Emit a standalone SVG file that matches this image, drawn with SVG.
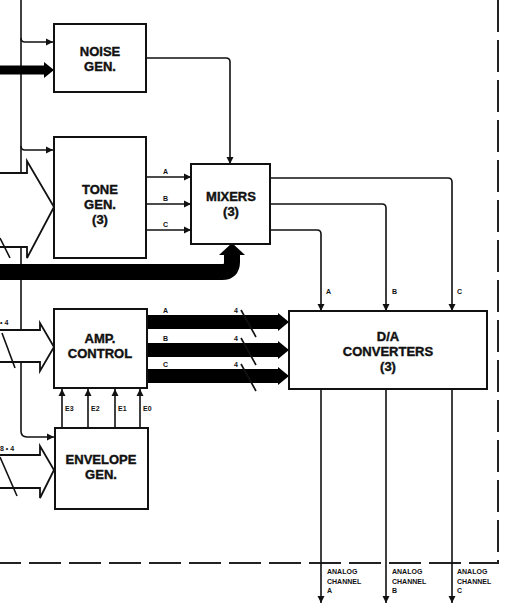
<svg xmlns="http://www.w3.org/2000/svg" width="506" height="608" viewBox="0 0 506 608">
<style>
.box{fill:#fff;stroke:#111;stroke-width:2}
.ln{fill:none;stroke:#111;stroke-width:1.6}
.thick{fill:none;stroke:#000}
.hollow{fill:#fff;stroke:#111;stroke-width:1.8;stroke-linejoin:miter}
.t{font-family:"Liberation Sans",Arial,sans-serif;font-weight:bold;font-size:13px;text-anchor:middle;fill:#111;stroke:#111;stroke-width:0.4}
.s{font-family:"Liberation Sans",Arial,sans-serif;font-weight:bold;font-size:7px;fill:#111}
.dash{fill:none;stroke:#222;stroke-width:2;stroke-dasharray:32 8}
</style>
<defs>
<marker id="ah" markerUnits="userSpaceOnUse" markerWidth="8" markerHeight="8" refX="7" refY="4" orient="auto">
<path d="M0,0.5 L7,4 L0,7.5 z" fill="#111"/>
</marker>
</defs>

<path class="dash" d="M498,0 V563 H0"/>

<g id="inputs">
<polygon class="hollow" points="-2,173 27,173 27,161 54,207 27,258 27,247 -2,247"/>
<line class="ln" x1="0" y1="238" x2="10" y2="258"/>
<polygon class="hollow" points="-2,330 40,330 40,323 54,347 40,371 40,362 -2,362"/>
<line class="ln" x1="2" y1="333" x2="15" y2="368"/>
<text class="s" x="0" y="325">• 4</text>
<polygon class="hollow" points="-2,455 40,455 40,446 54,470 40,498 40,488 -2,488"/>
<line class="ln" x1="0" y1="457" x2="17" y2="496"/>
<text class="s" x="0" y="451">8 • 4</text>
</g>

<g id="connectors">
<path class="ln" d="M21,0 V173"/>
<path class="ln" d="M21,38 Q21,42 25,42 H53" marker-end="url(#ah)"/>
<path class="ln" d="M21,146 Q21,150 25,150 H53" marker-end="url(#ah)"/>
<path class="ln" d="M21,247 V330"/>
<path class="ln" d="M21,362 V431 Q21,437 27,437 H54" marker-end="url(#ah)"/>
<path class="thick" stroke-width="9" d="M0,70 H46"/>
<polygon points="44,62 54,70 44,78" fill="#000"/>
<path class="thick" stroke-width="16" d="M0,272 H222 Q232,272 232,262 V253"/>
<polygon points="219,255 232,243 245,255" fill="#000"/>
<path class="ln" d="M146,58 H226 Q230,58 230,62 V164" marker-end="url(#ah)"/>
<path class="ln" d="M146,177 H191" marker-end="url(#ah)"/>
<path class="ln" d="M146,204 H191" marker-end="url(#ah)"/>
<path class="ln" d="M146,230 H191" marker-end="url(#ah)"/>
<text class="s" x="163" y="174">A</text>
<text class="s" x="163" y="201">B</text>
<text class="s" x="163" y="227">C</text>
<path class="ln" d="M270,178 H448 Q452,178 452,182 V311" marker-end="url(#ah)"/>
<path class="ln" d="M270,204 H382 Q386,204 386,208 V311" marker-end="url(#ah)"/>
<path class="ln" d="M270,230 H317 Q321,230 321,234 V311" marker-end="url(#ah)"/>
<text class="s" x="326" y="294">A</text>
<text class="s" x="392" y="294">B</text>
<text class="s" x="457" y="294">C</text>
<path class="thick" stroke-width="14" d="M147,322 H280"/>
<polygon points="278,313 289,322 278,331" fill="#000"/>
<path class="thick" stroke-width="14" d="M147,350 H280"/>
<polygon points="278,341 289,350 278,359" fill="#000"/>
<path class="thick" stroke-width="14" d="M147,376 H280"/>
<polygon points="278,367 289,376 278,385" fill="#000"/>
<line class="ln" x1="241" y1="310" x2="256" y2="337"/>
<line class="ln" x1="241" y1="338" x2="256" y2="365"/>
<line class="ln" x1="241" y1="364" x2="256" y2="391"/>
<text class="s" x="163" y="313">A</text>
<text class="s" x="163" y="341">B</text>
<text class="s" x="163" y="367">C</text>
<text class="s" x="234" y="313">4</text>
<text class="s" x="234" y="341">4</text>
<text class="s" x="234" y="367">4</text>
<path class="ln" d="M62,428 V389" marker-end="url(#ah)"/>
<path class="ln" d="M88,428 V389" marker-end="url(#ah)"/>
<path class="ln" d="M115,428 V389" marker-end="url(#ah)"/>
<path class="ln" d="M140,428 V389" marker-end="url(#ah)"/>
<text class="s" x="65" y="411">E3</text>
<text class="s" x="91" y="411">E2</text>
<text class="s" x="118" y="411">E1</text>
<text class="s" x="143" y="411">E0</text>
<path class="ln" d="M321,389 V603" marker-end="url(#ah)"/>
<path class="ln" d="M386,389 V603" marker-end="url(#ah)"/>
<path class="ln" d="M452,389 V603" marker-end="url(#ah)"/>
<text class="s" x="327" y="574">ANALOG</text>
<text class="s" x="327" y="584">CHANNEL</text>
<text class="s" x="327" y="593">A</text>
<text class="s" x="392" y="574">ANALOG</text>
<text class="s" x="392" y="584">CHANNEL</text>
<text class="s" x="392" y="593">B</text>
<text class="s" x="457" y="574">ANALOG</text>
<text class="s" x="457" y="584">CHANNEL</text>
<text class="s" x="457" y="593">C</text>
</g>

<g id="noise-gen">
<rect class="box" x="54" y="24" width="92" height="68"/>
<text class="t" x="100" y="56">NOISE</text>
<text class="t" x="100" y="71">GEN.</text>
</g>
<g id="tone-gen">
<rect class="box" x="54" y="137" width="92" height="121"/>
<text class="t" x="100" y="194">TONE</text>
<text class="t" x="100" y="209">GEN.</text>
<text class="t" x="100" y="224">(3)</text>
</g>
<g id="mixers">
<rect class="box" x="191" y="164" width="79" height="80"/>
<text class="t" x="231" y="201">MIXERS</text>
<text class="t" x="231" y="216">(3)</text>
</g>
<g id="amp-control">
<rect class="box" x="54" y="309" width="93" height="79"/>
<text class="t" x="100" y="343">AMP.</text>
<text class="t" x="100" y="358">CONTROL</text>
</g>
<g id="envelope-gen">
<rect class="box" x="55" y="428" width="93" height="81"/>
<text class="t" x="101" y="464">ENVELOPE</text>
<text class="t" x="101" y="479">GEN.</text>
</g>
<g id="da-converters">
<rect class="box" x="289" y="311" width="198" height="78"/>
<text class="t" x="388" y="341">D/A</text>
<text class="t" x="388" y="356">CONVERTERS</text>
<text class="t" x="388" y="371">(3)</text>
</g>
</svg>
